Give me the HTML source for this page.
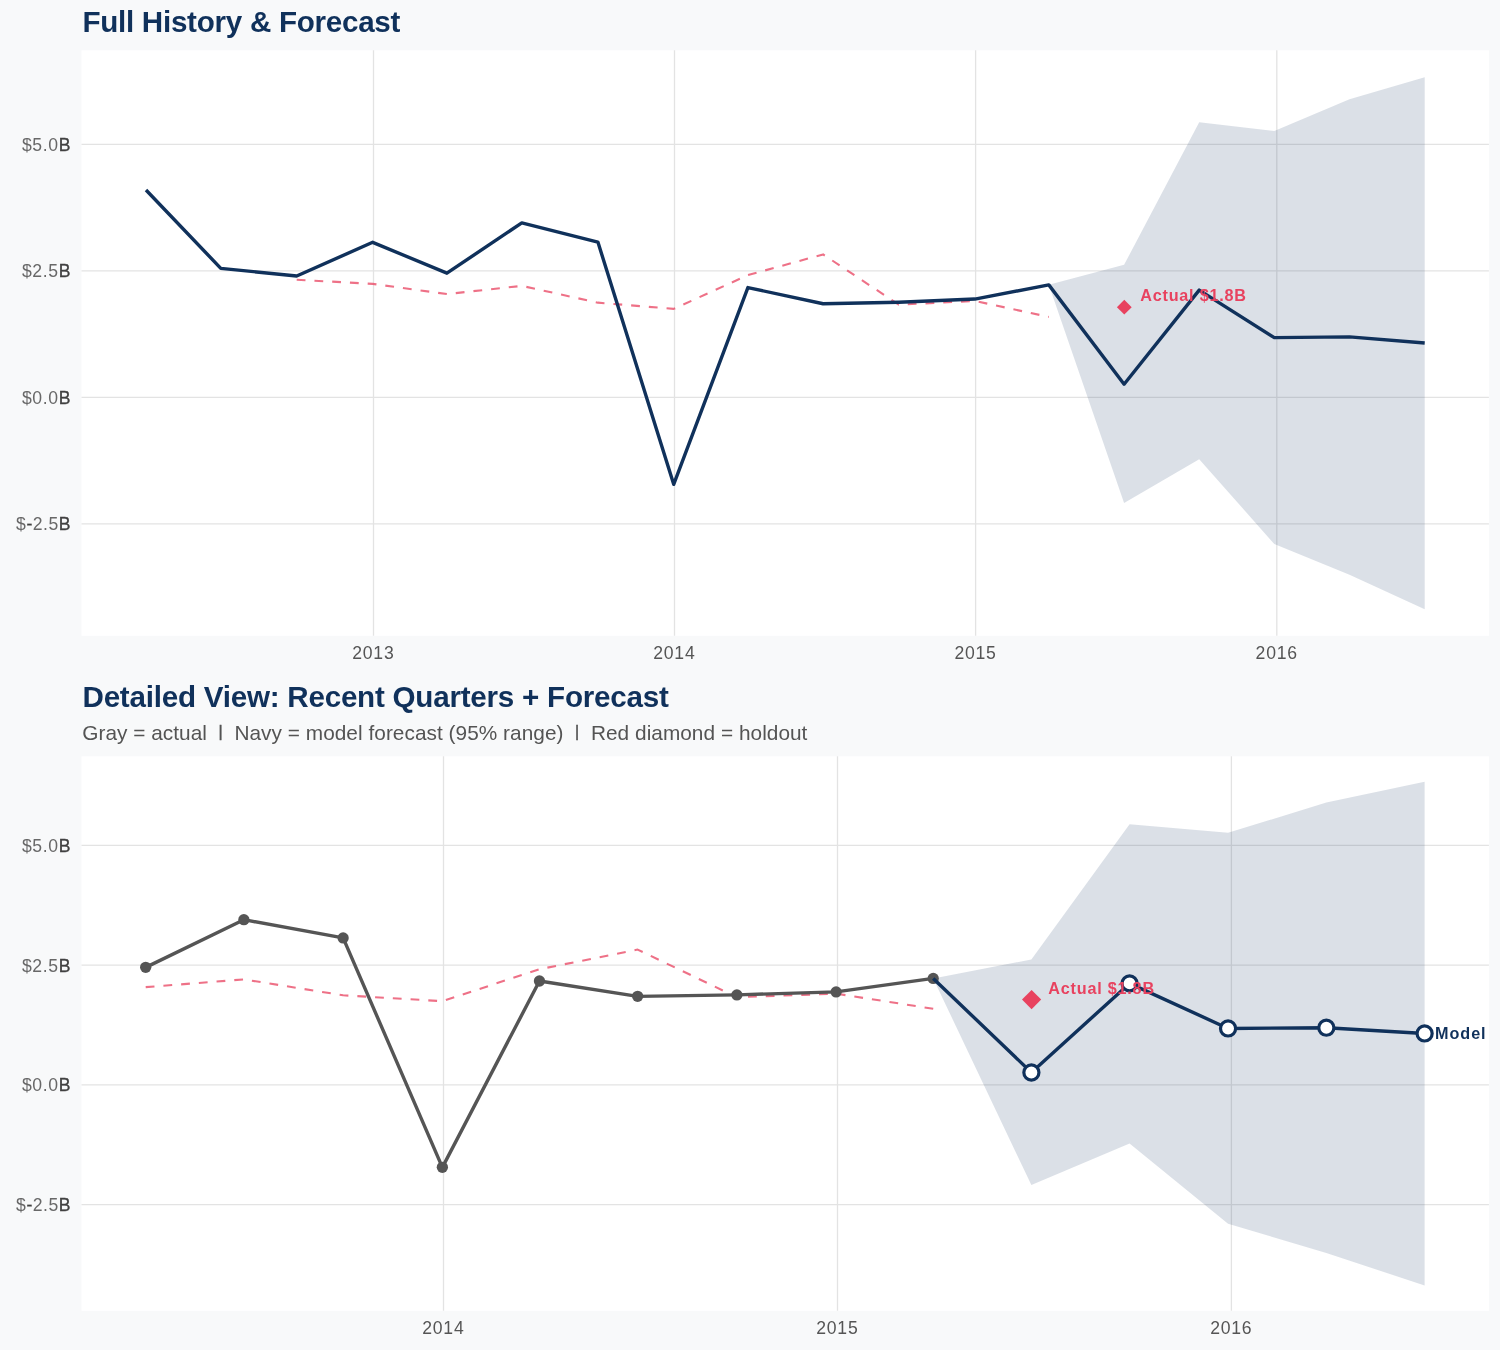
<!DOCTYPE html>
<html lang="en"><head><meta charset="utf-8"><title>Full History &amp; Forecast</title>
<style>
html,body{margin:0;padding:0;background:#f8f9fa;}
body{width:1500px;height:1350px;overflow:hidden;font-family:"Liberation Sans",sans-serif;}
svg{display:block;}
text{font-family:"Liberation Sans",sans-serif;}
.t{font-weight:bold;font-size:29.6px;fill:#10315b;}
.s{font-size:20.8px;fill:#545454;}
.a{font-size:17.6px;fill:#555555;}
.l{fill:#686868;}
.b{fill:#404040;stroke:#404040;stroke-width:0.3;}
.r{font-weight:bold;font-size:16.2px;fill:#e8425f;}
.m{font-weight:bold;font-size:16.2px;fill:#10315b;}
.g{stroke:#e3e3e3;stroke-width:1.3;fill:none;}
</style></head><body>
<svg width="1500" height="1350" viewBox="0 0 1500 1350">
<rect x="0" y="0" width="1500" height="1350" fill="#f8f9fa"/>
<text class="t" x="82.4" y="31.8" textLength="318" lengthAdjust="spacing">Full History &amp; Forecast</text>
<rect x="81.5" y="50.3" width="1407.4" height="585.55" fill="#fff"/>
<path class="g" d="M81.5 144.45H1488.9"/>
<path class="g" d="M81.5 270.9H1488.9"/>
<path class="g" d="M81.5 397.35H1488.9"/>
<path class="g" d="M81.5 523.8H1488.9"/>
<path class="g" d="M373.5 50.3V635.85"/>
<path class="g" d="M674.5 50.3V635.85"/>
<path class="g" d="M975.6 50.3V635.85"/>
<path class="g" d="M1276.8 50.3V635.85"/>
<polygon points="1048.8,284.86 1124.1,264.83 1199.2,122.19 1274.3,131.1 1349.5,99.13 1424.7,77.18 1424.7,609.18 1349.5,574.68 1274.3,544.03 1199.2,459.16 1124.1,503.06 1048.8,284.86" fill="#10315b" fill-opacity="0.15"/>
<polyline points="296.7,279.75 372.7,283.85 446.9,294.07 521.8,285.87 597.9,302.66 673.7,308.89 747.9,275.15 823.1,254.41 898.8,304.69 974.8,300.94 1048.8,316.93" fill="none" stroke="#e8425f" stroke-opacity="0.75" stroke-width="2.1" stroke-dasharray="8.8 8.97" stroke-linejoin="round"/>
<polyline points="146,189.97 220.8,268.37 296.7,275.96 372.7,242.32 446.9,273.18 521.8,222.85 597.9,242.07 673.7,484.35 747.9,287.59 823.1,303.78 898.8,302.26 974.8,299.07 1048.8,284.86 1124.1,384.2 1199.2,290.12 1274.3,337.67 1349.5,336.91 1424.7,342.98" fill="none" stroke="#10315b" stroke-width="3.4" stroke-linejoin="round"/>
<polygon points="1124.3,299.82 1131.7,307.22 1124.3,314.62 1116.9,307.22" fill="#e8425f"/>
<text class="r" x="1140.2" y="300.7" textLength="105.8" lengthAdjust="spacing">Actual $1.8B</text>
<text class="a" x="70.5" y="150.75" text-anchor="end" textLength="48.6" lengthAdjust="spacing"><tspan class="l">$5.0</tspan><tspan class="b">B</tspan></text>
<text class="a" x="70.5" y="277.2" text-anchor="end" textLength="48.6" lengthAdjust="spacing"><tspan class="l">$2.5</tspan><tspan class="b">B</tspan></text>
<text class="a" x="70.5" y="403.65" text-anchor="end" textLength="48.6" lengthAdjust="spacing"><tspan class="l">$0.0</tspan><tspan class="b">B</tspan></text>
<text class="a" x="70.5" y="530.1" text-anchor="end" textLength="54.4" lengthAdjust="spacing"><tspan class="l">$</tspan><tspan class="b">-</tspan><tspan class="l">2.5</tspan><tspan class="b">B</tspan></text>
<text class="a" x="373" y="659.3" text-anchor="middle" textLength="41.4" lengthAdjust="spacing">2013</text>
<text class="a" x="674" y="659.3" text-anchor="middle" textLength="41.4" lengthAdjust="spacing">2014</text>
<text class="a" x="975.1" y="659.3" text-anchor="middle" textLength="41.4" lengthAdjust="spacing">2015</text>
<text class="a" x="1276.3" y="659.3" text-anchor="middle" textLength="41.4" lengthAdjust="spacing">2016</text>
<text class="t" x="82.5" y="706.8" textLength="586.3" lengthAdjust="spacing">Detailed View: Recent Quarters + Forecast</text>
<text class="s" x="82.2" y="740" textLength="725.2" lengthAdjust="spacing" xml:space="preserve">Gray = actual  <tspan font-size="15.9px" dy="-3.2" stroke="#545454" stroke-width="0.5">|</tspan><tspan dy="3.2">  Navy = model forecast (95% range)  </tspan><tspan font-size="15.9px" dy="-3.2" stroke="#545454" stroke-width="0.5">|</tspan><tspan dy="3.2">  Red diamond = holdout</tspan></text>
<rect x="81.5" y="756.3" width="1407.4" height="554.55" fill="#fff"/>
<path class="g" d="M81.5 845.45H1488.9"/>
<path class="g" d="M81.5 965.2H1488.9"/>
<path class="g" d="M81.5 1084.95H1488.9"/>
<path class="g" d="M81.5 1204.7H1488.9"/>
<path class="g" d="M443.5 756.3V1310.85"/>
<path class="g" d="M837.5 756.3V1310.85"/>
<path class="g" d="M1231.4 756.3V1310.85"/>
<polygon points="933.22,978.42 1031.39,959.45 1129.57,824.37 1228.06,832.8 1326.34,802.53 1424.62,781.74 1424.62,1285.56 1326.34,1252.89 1228.06,1223.86 1129.57,1143.48 1031.39,1185.06 933.22,978.42" fill="#10315b" fill-opacity="0.15"/>
<polyline points="145.7,987.14 243.87,979.38 343.12,995.28 442.37,1001.17 539.46,969.22 637.63,949.58 736.88,997.2 836.13,993.65 933.22,1008.79" fill="none" stroke="#e8425f" stroke-opacity="0.75" stroke-width="2.1" stroke-dasharray="8.8 8.97" stroke-linejoin="round"/>
<polyline points="145.7,967.36 243.87,919.7 343.12,937.9 442.37,1167.34 539.46,981.01 637.63,996.34 736.88,994.9 836.13,991.88 933.22,978.42" fill="none" stroke="#555555" stroke-width="3.4" stroke-linejoin="round"/>
<circle cx="145.7" cy="967.36" r="5.65" fill="#555555"/>
<circle cx="243.87" cy="919.7" r="5.65" fill="#555555"/>
<circle cx="343.12" cy="937.9" r="5.65" fill="#555555"/>
<circle cx="442.37" cy="1167.34" r="5.65" fill="#555555"/>
<circle cx="539.46" cy="981.01" r="5.65" fill="#555555"/>
<circle cx="637.63" cy="996.34" r="5.65" fill="#555555"/>
<circle cx="736.88" cy="994.9" r="5.65" fill="#555555"/>
<circle cx="836.13" cy="991.88" r="5.65" fill="#555555"/>
<circle cx="933.22" cy="978.42" r="5.65" fill="#555555"/>
<polyline points="933.22,978.42 1031.39,1072.5 1129.57,983.4 1228.06,1028.43 1326.34,1027.71 1424.62,1033.46" fill="none" stroke="#10315b" stroke-width="3.4" stroke-linejoin="round"/>
<circle cx="1031.39" cy="1072.5" r="7.55" fill="#fff" stroke="#10315b" stroke-width="3.2"/>
<circle cx="1129.57" cy="983.4" r="7.55" fill="#fff" stroke="#10315b" stroke-width="3.2"/>
<circle cx="1228.06" cy="1028.43" r="7.55" fill="#fff" stroke="#10315b" stroke-width="3.2"/>
<circle cx="1326.34" cy="1027.71" r="7.55" fill="#fff" stroke="#10315b" stroke-width="3.2"/>
<circle cx="1424.62" cy="1033.46" r="7.55" fill="#fff" stroke="#10315b" stroke-width="3.2"/>
<polygon points="1031.59,989.99 1041.19,999.59 1031.59,1009.19 1021.99,999.59" fill="#e8425f"/>
<text class="r" x="1048.3" y="993.8" textLength="105.8" lengthAdjust="spacing">Actual $1.8B</text>
<text class="m" x="1435" y="1039.2" textLength="50.6" lengthAdjust="spacing">Model</text>
<text class="a" x="70.5" y="851.75" text-anchor="end" textLength="48.6" lengthAdjust="spacing"><tspan class="l">$5.0</tspan><tspan class="b">B</tspan></text>
<text class="a" x="70.5" y="971.5" text-anchor="end" textLength="48.6" lengthAdjust="spacing"><tspan class="l">$2.5</tspan><tspan class="b">B</tspan></text>
<text class="a" x="70.5" y="1091.25" text-anchor="end" textLength="48.6" lengthAdjust="spacing"><tspan class="l">$0.0</tspan><tspan class="b">B</tspan></text>
<text class="a" x="70.5" y="1211" text-anchor="end" textLength="54.4" lengthAdjust="spacing"><tspan class="l">$</tspan><tspan class="b">-</tspan><tspan class="l">2.5</tspan><tspan class="b">B</tspan></text>
<text class="a" x="443" y="1334.4" text-anchor="middle" textLength="41.4" lengthAdjust="spacing">2014</text>
<text class="a" x="837" y="1334.4" text-anchor="middle" textLength="41.4" lengthAdjust="spacing">2015</text>
<text class="a" x="1230.9" y="1334.4" text-anchor="middle" textLength="41.4" lengthAdjust="spacing">2016</text>
</svg>
</body></html>
